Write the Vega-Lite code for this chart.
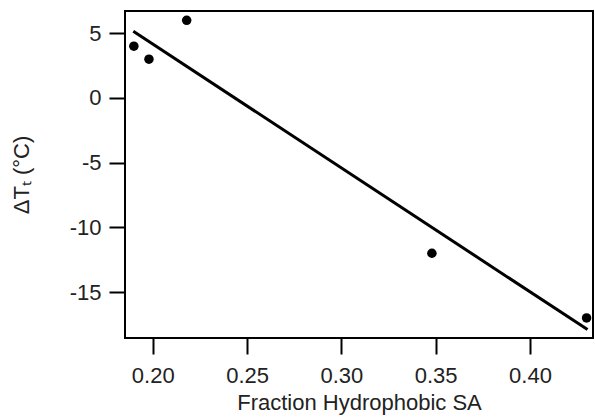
{
  "$schema": "https://vega.github.io/schema/vega-lite/v6.json",
  "autosize": {"type": "none"},
  "width": 468,
  "height": 327,
  "padding": {"left": 125, "top": 11, "right": 2, "bottom": 79},
  "background": "white",
  "datasets": {
    "points": [
      {"fraction": 0.190, "dTt": 4},
      {"fraction": 0.198, "dTt": 3},
      {"fraction": 0.218, "dTt": 6},
      {"fraction": 0.348, "dTt": -12},
      {"fraction": 0.430, "dTt": -17}
    ],
    "fit": [
      {"fraction": 0.1897, "dTt": 5.15},
      {"fraction": 0.4305, "dTt": -17.9}
    ]
  },
  "config": {
    "view": {"stroke": "black", "strokeWidth": 2},
    "font": "Liberation Sans",
    "axis": {
      "grid": false,
      "domain": false,
      "tickColor": "black",
      "tickWidth": 2,
      "tickSize": 16,
      "labelColor": "#222",
      "labelFontSize": 22,
      "labelFont": "Liberation Sans",
      "titleFont": "Liberation Sans",
      "titleFontSize": 22,
      "titleFontWeight": "normal",
      "titleColor": "#222"
    }
  },
  "layer": [
    {
      "data": {"name": "fit"},
      "mark": {"type": "line", "color": "black", "strokeWidth": 3},
      "encoding": {
        "x": {"field": "fraction", "type": "quantitative",
              "scale": {"domain": [0.1853, 0.4334], "nice": false, "zero": false},
              "axis": {"title": "Fraction Hydrophobic SA", "values": [0.2, 0.25, 0.3, 0.35, 0.4], "format": ".2f", "labelPadding": 11, "titlePadding": 6}},
        "y": {"field": "dTt", "type": "quantitative",
              "scale": {"domain": [-18.55, 6.72], "nice": false, "zero": false},
              "axis": {"title": "ΔTₜ (°C)", "values": [-15, -10, -5, 0, 5], "labelExpr": "datum.value < 0 ? '-' + abs(datum.value) : '' + datum.value", "labelPadding": 8, "titlePadding": 36}}
      }
    },
    {
      "data": {"name": "points"},
      "mark": {"type": "circle", "color": "black", "opacity": 1, "size": 90},
      "encoding": {
        "x": {"field": "fraction", "type": "quantitative"},
        "y": {"field": "dTt", "type": "quantitative"}
      }
    }
  ]
}
